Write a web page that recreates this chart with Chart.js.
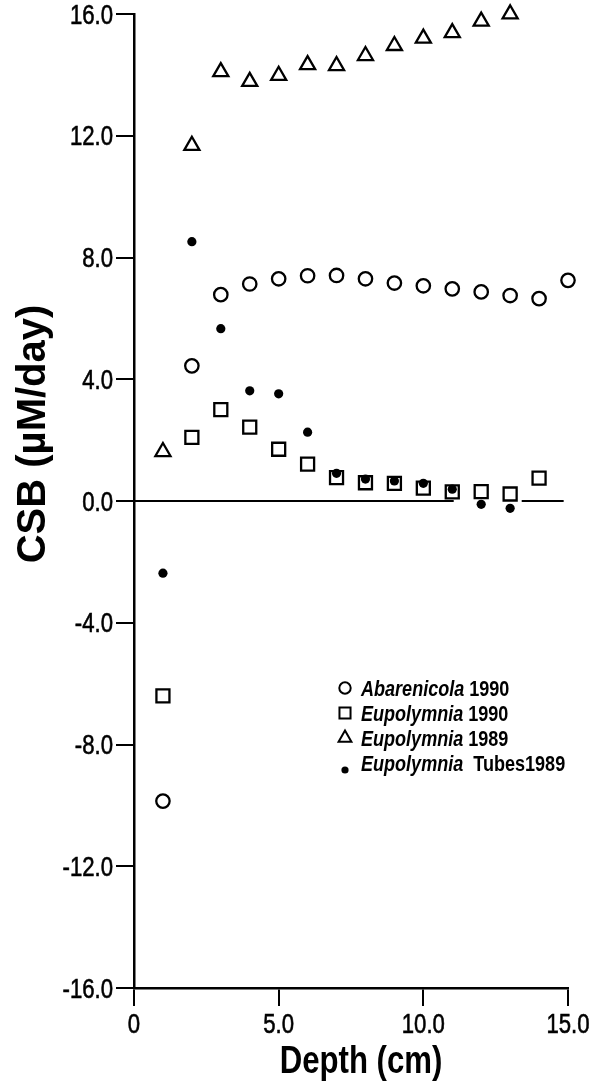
<!DOCTYPE html>
<html>
<head>
<meta charset="utf-8">
<script src="https://cdn.jsdelivr.net/npm/chart.js@4/dist/chart.umd.min.js"></script>
<style>
  html, body { margin: 0; padding: 0; background: #fff; }
</style>
</head>
<body>
<canvas id="chart-csb" width="590" height="1086"></canvas>
<script>
// profundidades (cm)
const depthsAbarenicola90 = [1, 2, 3, 4, 5, 6, 7, 8, 9, 10, 11, 12, 13, 14, 15];
const csbAbarenicola90 = [-9.86, 4.44, 6.78, 7.13, 7.30, 7.40, 7.41, 7.30, 7.16, 7.07, 6.97, 6.87, 6.75, 6.65, 7.25];

const depthsEupolymnia90 = [1, 2, 3, 4, 5, 6, 7, 8, 9, 10, 11, 12, 13, 14];
const csbEupolymnia90 = [-6.40, 2.09, 3.00, 2.43, 1.70, 1.21, 0.77, 0.60, 0.58, 0.42, 0.30, 0.31, 0.23, 0.75];

const depthsEupolymnia89 = [1, 2, 3, 4, 5, 6, 7, 8, 9, 10, 11, 12, 13];
const csbEupolymnia89 = [1.62, 11.68, 14.10, 13.78, 13.98, 14.33, 14.30, 14.63, 14.96, 15.20, 15.38, 15.76, 16.00];

const depthsTubes89 = [1, 2, 3, 4, 5, 6, 7, 8, 9, 10, 11, 12, 13];
const csbTubes89 = [-2.37, 8.52, 5.66, 3.62, 3.52, 2.26, 0.91, 0.72, 0.66, 0.58, 0.39, -0.11, -0.24];

// linha do zero (interrompida perto dos pontos 11-13)
const zeroLineSegments = [[0, 11.05], [13.4, 14.85]];

const yTicks = [-16, -12, -8, -4, 0, 4, 8, 12, 16];
const xTicks = [0, 5, 10, 15];

const legendSpecies = ['Abarenicola', 'Eupolymnia', 'Eupolymnia', 'Eupolymnia'];
const legendSuffix = [' 1990', ' 1990', ' 1989', '  Tubes1989'];
const legendStyles = ['circle', 'rect', 'triangle', 'dot'];

const SANS = "'Liberation Sans', Arial, sans-serif";
const NARROW_SCALE = 0.82;

function toPoints(xs, ys) {
    return xs.map((x, i) => ({ x: x, y: ys[i] }));
}

const zeroLineData = [];
zeroLineSegments.forEach((seg, i) => {
    if (i > 0) zeroLineData.push({ x: seg[0], y: null });
    zeroLineData.push({ x: seg[0], y: 0 }, { x: seg[1], y: 0 });
});

function markerOpts(style) {
    if (style === 'circle') return { pointStyle: 'circle', radius: 6.7, fill: '#fff' };
    if (style === 'rect') return { pointStyle: 'rect', radius: 9.2, fill: 'rgba(255,255,255,0)' };
    if (style === 'triangle') return { pointStyle: 'triangle', radius: 8.7, fill: '#fff' };
    return { pointStyle: 'circle', radius: 4.6, fill: '#000' };
}

function scatterSet(label, xs, ys, style) {
    const m = markerOpts(style);
    return {
        label: label,
        data: toPoints(xs, ys),
        showLine: false,
        clip: false,
        pointStyle: m.pointStyle,
        pointRadius: m.radius,
        pointBackgroundColor: m.fill,
        pointBorderColor: '#000',
        pointBorderWidth: style === 'dot' ? 0 : 2.3
    };
}

// texto estreito (Helvetica Narrow) simulado com escala horizontal
function narrowText(ctx, text, x, y, align, heavy) {
    ctx.save();
    ctx.translate(x, y);
    ctx.scale(NARROW_SCALE, 1);
    ctx.textAlign = align;
    ctx.fillText(text, 0, 0);
    if (heavy) {
        ctx.lineWidth = heavy;
        ctx.strokeStyle = ctx.fillStyle;
        ctx.strokeText(text, 0, 0);
    }
    ctx.restore();
}

// rotulos, titulos e legenda
const extrasPlugin = {
    id: 'extras',
    afterDraw(chart) {
        const ctx = chart.ctx;
        const xs = chart.scales.x, ys = chart.scales.y;
        ctx.save();
        ctx.fillStyle = '#000';
        ctx.textBaseline = 'alphabetic';

        // rotulos dos ticks
        const tickSize = 27;
        ctx.font = tickSize + 'px ' + SANS;
        ys.ticks.forEach(t => {
            const py = ys.getPixelForValue(t.value);
            narrowText(ctx, t.value.toFixed(1), ys.right - 21, py + tickSize * 0.358, 'right', 0.6);
        });
        xs.ticks.forEach(t => {
            const px = xs.getPixelForValue(t.value);
            const txt = t.value === 0 ? '0' : t.value.toFixed(1);
            narrowText(ctx, txt, px, xs.top + 26 + tickSize * 0.716, 'center', 0.6);
        });

        // titulo do eixo x
        ctx.font = 'bold 38px ' + SANS;
        narrowText(ctx, 'Depth (cm)', 361, 1073, 'center');

        // titulo do eixo y
        ctx.save();
        ctx.translate(45, 434);
        ctx.rotate(-Math.PI / 2);
        ctx.font = 'bold 40px ' + SANS;
        ctx.textAlign = 'center';
        ctx.fillText('CSB (\u00B5M/day)', 0, 0);
        ctx.restore();

        // legenda
        const rowsY = [688, 713, 738, 763];
        legendSpecies.forEach((name, i) => {
            const y = rowsY[i];
            const style = legendStyles[i];
            const m = markerOpts(style);
            ctx.fillStyle = style === 'dot' ? '#000' : '#fff';
            ctx.strokeStyle = '#000';
            ctx.lineWidth = 2;
            const r = style === 'dot' ? 3.6 : m.radius * 0.85;
            Chart.helpers.drawPoint(ctx, {
                pointStyle: m.pointStyle, rotation: 0, radius: r, borderWidth: style === 'dot' ? 0 : 2
            }, 345, style === 'dot' ? y + 7 : y);

            ctx.fillStyle = '#000';
            const base = y + 8;
            ctx.font = 'italic bold 22px ' + SANS;
            narrowText(ctx, name, 361, base, 'left');
            const w = ctx.measureText(name).width * NARROW_SCALE;
            ctx.font = 'bold 22px ' + SANS;
            narrowText(ctx, legendSuffix[i], 361 + w, base, 'left');
        });
        ctx.restore();
    }
};

document.addEventListener('DOMContentLoaded', function() {
    const ctx = document.getElementById('chart-csb').getContext('2d');
    new Chart(ctx, {
        type: 'scatter',
        data: {
            datasets: [
                {
                    label: 'zero',
                    type: 'line',
                    data: zeroLineData,
                    borderColor: '#000',
                    borderWidth: 2,
                    pointRadius: 0,
                    spanGaps: false,
                    fill: false
                },
                scatterSet('Abarenicola 1990', depthsAbarenicola90, csbAbarenicola90, 'circle'),
                scatterSet('Eupolymnia 1990', depthsEupolymnia90, csbEupolymnia90, 'rect'),
                scatterSet('Eupolymnia 1989', depthsEupolymnia89, csbEupolymnia89, 'triangle'),
                scatterSet('Eupolymnia Tubes1989', depthsTubes89, csbTubes89, 'dot')
            ]
        },
        options: {
            responsive: false,
            animation: false,
            layout: { padding: { top: 14, right: 22, left: 0, bottom: 0 } },
            plugins: {
                legend: { display: false },
                tooltip: { enabled: false }
            },
            scales: {
                x: {
                    type: 'linear',
                    min: 0,
                    max: 15,
                    afterBuildTicks: s => { s.ticks = xTicks.map(v => ({ value: v })); },
                    afterFit: s => { s.height = 98; },
                    border: { display: true, color: '#000', width: 2.5 },
                    grid: { drawOnChartArea: false, drawTicks: true, tickLength: 18, color: '#000', lineWidth: 2 },
                    ticks: { display: false }
                },
                y: {
                    type: 'linear',
                    min: -16,
                    max: 16,
                    afterBuildTicks: s => { s.ticks = yTicks.map(v => ({ value: v })); },
                    afterFit: s => { s.width = 134; },
                    border: { display: true, color: '#000', width: 2.5 },
                    grid: { drawOnChartArea: false, drawTicks: true, tickLength: 18, color: '#000', lineWidth: 2 },
                    ticks: { display: false }
                }
            }
        },
        plugins: [extrasPlugin]
    });
});
</script>
</body>
</html>
